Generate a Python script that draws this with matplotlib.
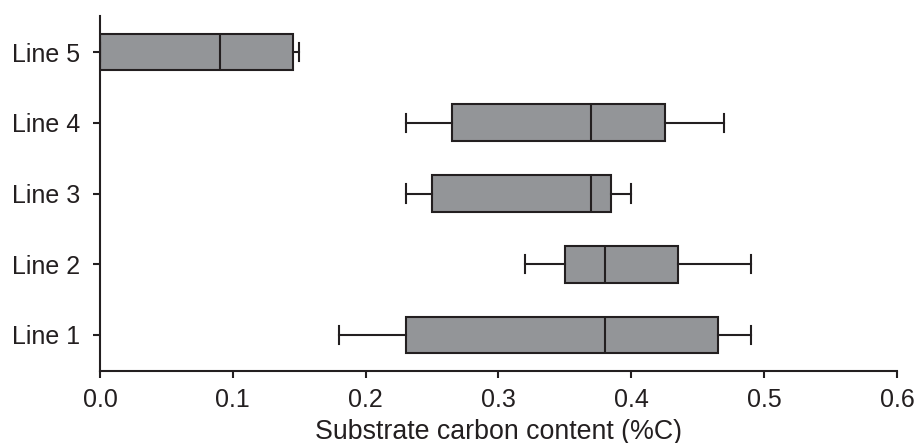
import matplotlib
matplotlib.use("Agg")
import matplotlib.pyplot as plt

# values (substrate carbon content, %C)
labels = ["Line 1", "Line 2", "Line 3", "Line 4", "Line 5"]
whisker_low = [0.18, 0.32, 0.23, 0.23, 0.0]
q1 = [0.23, 0.35, 0.25, 0.265, 0.0]
median = [0.38, 0.38, 0.37, 0.37, 0.09]
q3 = [0.465, 0.435, 0.385, 0.425, 0.145]
whisker_high = [0.49, 0.49, 0.40, 0.47, 0.15]
xticks = [0.0, 0.1, 0.2, 0.3, 0.4, 0.5, 0.6]

plt.rcParams["font.family"] = ["Liberation Sans", "DejaVu Sans"]

edge = "#231f20"
fill = "#939598"

stats = []
for i in range(len(labels)):
    stats.append({"label": labels[i], "whislo": whisker_low[i], "q1": q1[i],
                  "med": median[i], "q3": q3[i], "whishi": whisker_high[i],
                  "fliers": []})

fig = plt.figure(figsize=(9.14, 4.43), dpi=100)
ax = fig.add_axes([0.1094, 0.1625, 0.872, 0.8014])

lw = 1.5
ax.bxp(stats, positions=range(1, len(labels) + 1), vert=False, widths=0.52,
       patch_artist=True, showfliers=False,
       boxprops=dict(facecolor=fill, edgecolor=edge, linewidth=lw),
       medianprops=dict(color=edge, linewidth=lw),
       whiskerprops=dict(color=edge, linewidth=lw),
       capprops=dict(color=edge, linewidth=lw))

ax.set_xlim(0, 0.6)
ax.set_ylim(0.49, 5.51)
ax.set_xticks(xticks)
ax.set_xticklabels(["%.1f" % v for v in xticks])
ax.set_yticks(range(1, len(labels) + 1))
ax.set_yticklabels(labels)
ax.set_xlabel("Substrate carbon content (%C)", fontsize=19.3, color=edge, labelpad=5)

for side in ["top", "right"]:
    ax.spines[side].set_visible(False)
for side in ["left", "bottom"]:
    ax.spines[side].set_linewidth(lw)
    ax.spines[side].set_color(edge)
ax.tick_params(axis="both", labelsize=18, colors=edge, width=lw, length=5)
ax.tick_params(axis="x", pad=7)
ax.tick_params(axis="y", pad=9)

fig.savefig("out.png", dpi=100)
